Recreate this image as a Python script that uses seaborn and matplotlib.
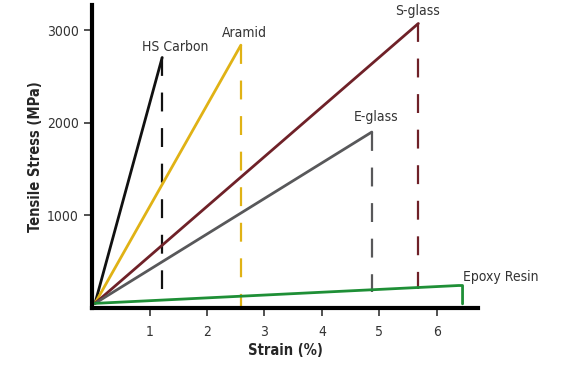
import matplotlib
matplotlib.use("Agg")
import matplotlib.pyplot as plt
import seaborn as sns

# fibre + resin data: failure strain (%), failure stress (MPa)
materials = ["HS Carbon", "Aramid", "S-glass", "E-glass"]
fail_strain = [1.22, 2.59, 5.68, 4.87]
fail_stress = [2705, 2838, 3072, 1900]
drop_to = [210, 0, 200, 170]  # where the dashed drop line stops
colors = ["#111111", "#e0b215", "#6f2128", "#58585a"]

epoxy_strain = [0.05, 6.38, 6.45, 6.45]
epoxy_stress = [50, 243, 243, 45]

origin = (0.05, 50)

# label centres (strain, stress)
label_pos = {
    "HS Carbon": (1.44, 2817),
    "Aramid": (2.66, 2968),
    "S-glass": (5.67, 3208),
    "E-glass": (4.94, 2061),
}

sns.set_theme(style="white")
plt.rcParams["font.family"] = ["DejaVu Sans"]
plt.rcParams["font.stretch"] = "condensed"

fig = plt.figure(figsize=(5.83, 3.68), dpi=100)
ax = fig.add_axes([0.158, 0.163, 0.662, 0.823])

for name, sx, sy, d, c in zip(materials, fail_strain, fail_stress, drop_to, colors):
    sns.lineplot(x=[origin[0], sx], y=[origin[1], sy], color=c, lw=2.0, ax=ax,
                 sort=False, estimator=None)
    sns.lineplot(x=[sx, sx], y=[sy, d], color=c, lw=1.6, ax=ax, sort=False,
                 estimator=None, linestyle=(0, (8.5, 7.5)))
    lx, ly = label_pos[name]
    ax.text(lx, ly, name, ha="center", va="center", fontsize=10, color="#333333",
            fontstretch="condensed")

sns.lineplot(x=epoxy_strain, y=epoxy_stress, color="#1e8f36", lw=2.0, ax=ax,
             sort=False, estimator=None)
ax.text(6.46, 335, "Epoxy Resin", ha="left", va="center", fontsize=10,
        color="#333333", fontstretch="condensed")

ax.set_xlim(0, 6.72)
ax.set_ylim(0, 3270)
ax.set_xticks([1, 2, 3, 4, 5, 6])
ax.set_yticks([1000, 2000, 3000])
ax.tick_params(axis="both", direction="out", length=6, width=1.2,
               labelsize=10, colors="#333333", bottom=True, left=True)
ax.tick_params(axis="x", pad=6)
for s in ["top", "right"]:
    ax.spines[s].set_visible(False)
for s in ["left", "bottom"]:
    ax.spines[s].set_linewidth(3)
    ax.spines[s].set_color("black")

ax.set_xlabel("Strain (%)", fontsize=10.5, fontweight="bold", labelpad=3,
              fontstretch="condensed")
ax.set_ylabel("Tensile Stress (MPa)", fontsize=10.5, fontweight="bold", labelpad=3,
              fontstretch="condensed")

fig.savefig("out.png", dpi=100)
